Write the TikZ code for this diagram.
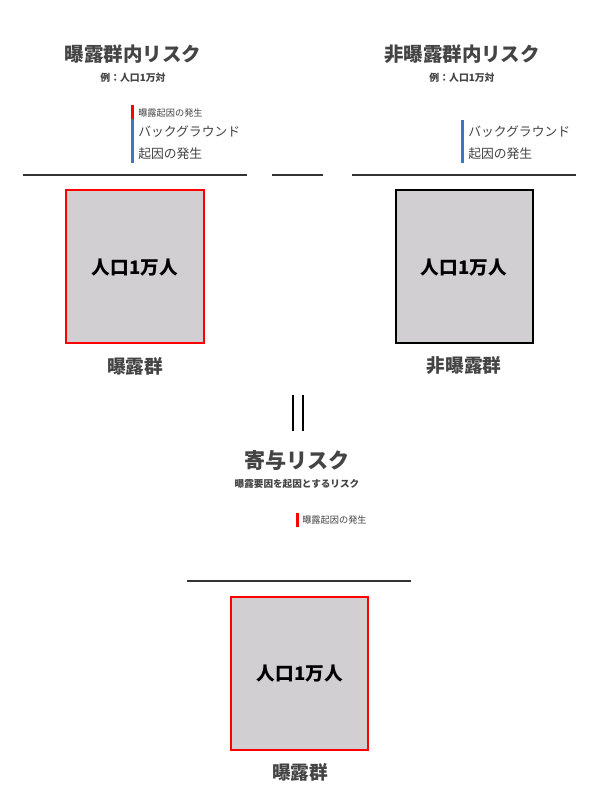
\documentclass[tikz,border=0pt]{standalone}
\usepackage{fontspec}
\setmainfont{Noto Sans CJK JP}
\newfontfamily\heavyjp{Noto Sans CJK JP Black}
\begin{document}
\begin{tikzpicture}[x=0.75pt,y=-0.75pt,
  title/.style={inner sep=0pt,text=titlegray,font=\heavyjp\fontsize{14.6pt}{16pt}\selectfont},
  sub/.style={inner sep=0pt,text=titlegray,font=\heavyjp\fontsize{7.4pt}{8pt}\selectfont},
  small/.style={inner sep=0pt,anchor=west,text=titlegray,font=\fontsize{6.9pt}{8pt}\selectfont},
  bg/.style={inner sep=0pt,anchor=west,text=titlegray,font=\fontsize{9.6pt}{11pt}\selectfont},
  boxtext/.style={inner sep=0pt,text=black,font=\fontsize{14pt}{16pt}\selectfont\bfseries},
  grp/.style={inner sep=0pt,text=titlegray,font=\heavyjp\fontsize{14pt}{16pt}\selectfont},
  rule/.style={draw=rulegray,line width=1.5pt},
  popbox/.style={fill=boxgray,line width=1.4pt},
  bar/.style={line width=2.3pt}
]
\definecolor{titlegray}{HTML}{444444}
\definecolor{rulegray}{HTML}{333333}
\definecolor{boxgray}{HTML}{D1CFD1}
\definecolor{barblue}{HTML}{3A78C0}
\definecolor{barred}{HTML}{FF0000}
\useasboundingbox[fill=white] (0,0) rectangle (602,800);

% left column
\node[title] (t1) at (133,54) {曝露群内リスク};
\node[sub] (s1) at (133,78) {例：人口1万対};
\draw[bar,barred] (132.5,105) -- (132.5,119);
\draw[bar,barblue] (132.5,119) -- (132.5,163);
\node[small] (e1) at (138,113) {曝露起因の発生};
\node[bg] (b1) at (138,132) {バックグラウンド};
\node[bg] (c1) at (138,154) {起因の発生};
\coordinate (l1a) at (23,175); \coordinate (l1b) at (247,175);
\draw[rule] (l1a) -- (l1b);
\draw[popbox,draw=barred] (66,190) rectangle (204,343);
\node[boxtext] (p1) at (135,268) {人口1万人};
\node[grp] (g1) at (135,366) {曝露群};

% middle rule
\coordinate (l2a) at (272,175); \coordinate (l2b) at (323,175);
\draw[rule] (l2a) -- (l2b);

% right column
\node[title] (t2) at (462,54) {非曝露群内リスク};
\node[sub] (s2) at (462,78) {例：人口1万対};
\draw[bar,barblue] (462.5,120) -- (462.5,163);
\node[bg] (b2) at (468,132) {バックグラウンド};
\node[bg] (c2) at (468,154) {起因の発生};
\coordinate (l3a) at (352,175); \coordinate (l3b) at (576,175);
\draw[rule] (l3a) -- (l3b);
\draw[popbox,draw=black] (396,190) rectangle (533,343);
\node[boxtext] (p2) at (464,268) {人口1万人};
\node[grp] (g2) at (464,366) {非曝露群};

% equals
\draw[black,line width=1.5pt] (293,395) -- (293,431);
\draw[black,line width=1.5pt] (302.5,395) -- (302.5,431);

% bottom
\node[title,font=\heavyjp\fontsize{15.8pt}{17pt}\selectfont] (t3) at (297,460) {寄与リスク};
\node[sub,font=\heavyjp\fontsize{7.2pt}{8pt}\selectfont] (s3) at (297,484) {曝露要因を起因とするリスク};
\draw[bar,barred] (297.5,513) -- (297.5,527);
\node[small] (e3) at (302,520) {曝露起因の発生};
\coordinate (l4a) at (187,581); \coordinate (l4b) at (411,581);
\draw[rule] (l4a) -- (l4b);
\draw[popbox,draw=barred] (231,597) rectangle (368,750);
\node[boxtext] (p3) at (300,674) {人口1万人};
\node[grp] (g3) at (300,772) {曝露群};
\end{tikzpicture}
\end{document}
